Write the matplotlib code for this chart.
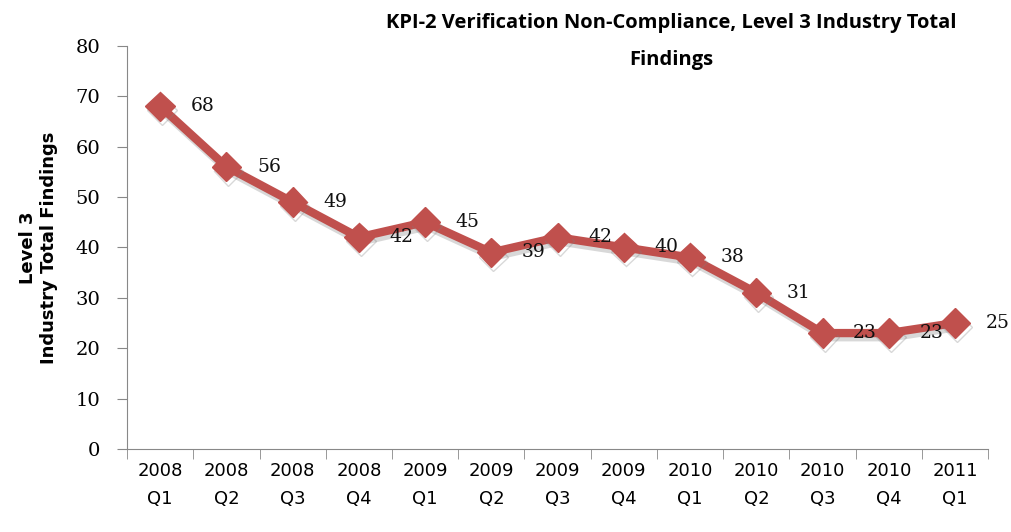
import numpy as np
import matplotlib.pyplot as plt
import matplotlib.patheffects as pe

# valeurs
quarters = ['2008\nQ1', '2008\nQ2', '2008\nQ3', '2008\nQ4', '2009\nQ1', '2009\nQ2', '2009\nQ3',
            '2009\nQ4', '2010\nQ1', '2010\nQ2', '2010\nQ3', '2010\nQ4', '2011\nQ1']
findings = [68, 56, 49, 42, 45, 39, 42, 40, 38, 31, 23, 23, 25]

red = '#C0504D'

fig = plt.figure(figsize=(10.12, 5.32), dpi=100)
ax = fig.add_axes([0.1255, 0.156, 0.851, 0.758])

x = np.arange(len(findings))
shadow = [pe.SimpleLineShadow(offset=(1.5, -3), shadow_color='gray', alpha=0.3), pe.Normal()]
ax.plot(x, findings, color=red, lw=6, marker='D', markersize=15,
        markeredgecolor=red, path_effects=shadow, solid_joinstyle='miter')

for xi, v in zip(x, findings):
    ax.annotate(str(v), (xi, v), xytext=(22, 0), textcoords='offset points',
                ha='left', va='center', fontsize=13.5, family='DejaVu Serif', color='#111111')

ax.set_xlim(-0.5, len(findings) - 0.5)
ax.set_ylim(0, 80)
ax.set_yticks(range(0, 81, 10))
ax.set_xticks(x)
ax.set_xticklabels(quarters, fontsize=13, linespacing=1.75)
ax.set_xticks(np.arange(-0.5, len(findings), 1), minor=True)
ax.tick_params(axis='x', which='major', length=0, pad=9)
ax.tick_params(axis='x', which='minor', length=7, color='#888888')
ax.tick_params(axis='y', length=7, color='#888888', pad=12)
for lab in ax.get_yticklabels():
    lab.set_family('DejaVu Serif')
    lab.set_fontsize(14)

ax.spines['top'].set_visible(False)
ax.spines['right'].set_visible(False)
ax.spines['left'].set_color('#888888')
ax.spines['bottom'].set_color('#888888')

ax.set_ylabel('Level 3\nIndustry Total Findings', fontsize=13, fontweight='bold', labelpad=13)

fig.text(0.663, 0.975, 'KPI-2 Verification Non-Compliance, Level 3 Industry Total\nFindings',
         ha='center', va='top', fontsize=14.5, fontweight='bold', family='Open Sans',
         linespacing=2.1)

plt.savefig('out.png', dpi=100)
